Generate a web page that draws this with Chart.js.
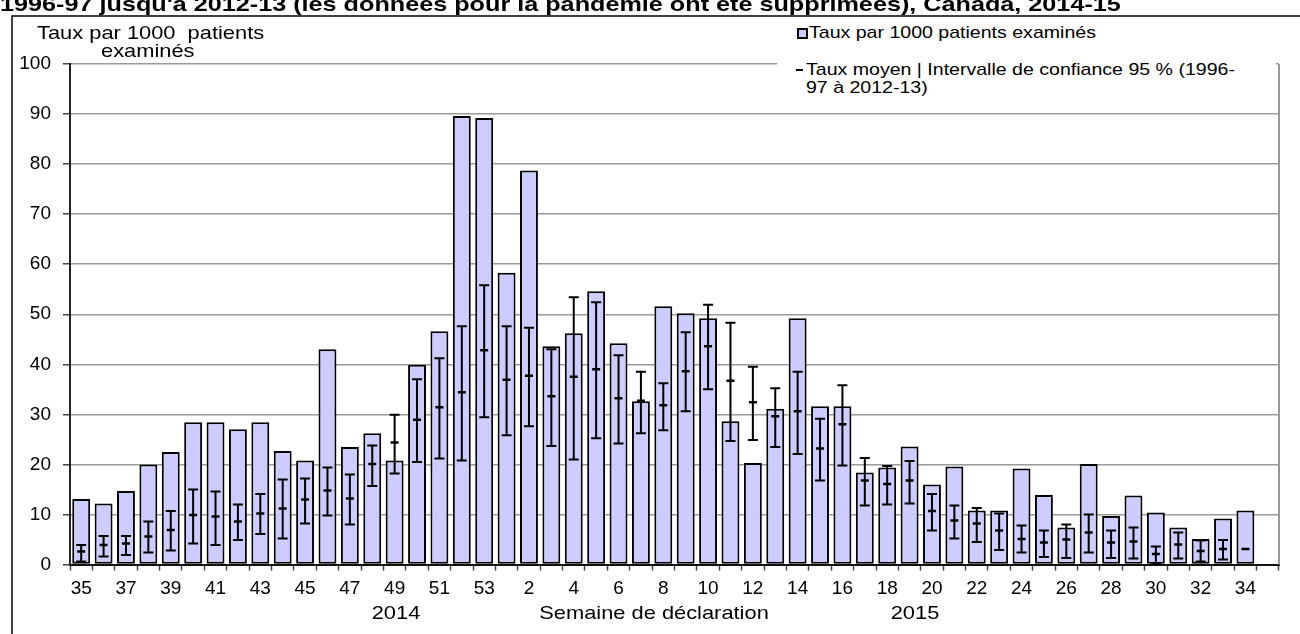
<!DOCTYPE html>
<html lang="fr">
<head>
<meta charset="utf-8">
<script src="https://cdn.jsdelivr.net/npm/chart.js@4.4.1/dist/chart.umd.min.js"></script>
<style>
  html, body { margin: 0; padding: 0; background: #fff; overflow: hidden; }
  #wrap { position: relative; width: 1300px; height: 634px; font-family: 'Liberation Sans', Arial, sans-serif; color: #000; }
  #wrap canvas { position: absolute; left: 0; top: 0; }
  .txt { position: absolute; white-space: nowrap; line-height: 20px; transform-origin: 0 50%; transform: scaleX(1.15); }
  .ctr { transform-origin: 50% 50%; transform: translateX(-50%) scaleX(1.15); }
  #title { font-weight: bold; font-size: 21px; left: 0; top: -6px; transform: scaleX(1.2); }
  #legend { position: absolute; left: 777px; top: 20px; width: 499px; height: 80px; background: #fff; }
  .swatch { position: absolute; width: 7px; height: 7px; border: 2px solid #000; background: #ccccff; }
  .dash { position: absolute; width: 7px; height: 2px; background: #000; }
</style>
</head>
<body>
<div id="wrap">
  <canvas id="chart" width="1300" height="634"></canvas>
  <div id="title" class="txt">1996-97 jusqu'à 2012-13 (les données pour la pandémie ont été supprimées), Canada, 2014-15</div>
  <div class="txt" style="left:37px; top:23px; font-size:19px;">Taux par 1000&nbsp; patients</div>
  <div class="txt" style="left:101px; top:41px; font-size:19px;">examinés</div>
  <div id="legend"></div>
  <div class="swatch" style="left:797px; top:28px;"></div>
  <div class="txt" style="left:809px; top:23px; font-size:17px;">Taux par 1000 patients examinés</div>
  <div class="dash" style="left:796px; top:69px;"></div>
  <div class="txt" style="left:806px; top:60px; font-size:17px;">Taux moyen | Intervalle de confiance 95 % (1996-</div>
  <div class="txt" style="left:806px; top:78px; font-size:17px;">97 à 2012-13)</div>
  <div class="txt ctr" style="left:396px; top:603px; font-size:19px;">2014</div>
  <div class="txt ctr" style="left:654px; top:603px; font-size:19px;">Semaine de déclaration</div>
  <div class="txt ctr" style="left:915px; top:603px; font-size:19px;">2015</div>
</div>
<script>
// Weeks 35 (2014) to 34 (2015), plus an empty slot at the end
const weekLabels = ['35','36','37','38','39','40','41','42','43','44','45','46','47','48','49','50','51','52','53',
  '1','2','3','4','5','6','7','8','9','10','11','12','13','14','15','16','17','18','19','20',
  '21','22','23','24','25','26','27','28','29','30','31','32','33','34','35'];

// Taux par 1000 patients examinés, 2014-15
const rates = [13.1, 12.2, 14.7, 20.0, 22.5, 28.4, 28.4, 27.0, 28.4, 22.7, 20.8, 43.0, 23.5, 26.2, 20.8, 39.9, 46.6, 89.6, 89.2,
  58.3, 78.7, 43.6, 46.2, 54.6, 44.2, 32.6, 51.6, 50.2, 49.2, 28.6, 20.3, 31.1, 49.2, 31.6, 31.6, 18.4, 19.4, 23.6, 16.0,
  19.6, 10.8, 10.8, 19.2, 13.9, 7.4, 20.1, 9.7, 13.8, 10.4, 7.4, 5.1, 9.2, 10.8, null];

// Taux moyen (1996-97 à 2012-13)
const meanRate = [2.6, 3.9, 4.2, 5.6, 6.9, 9.9, 9.6, 8.6, 10.2, 11.2, 13.0, 14.8, 13.2, 20.1, 24.4, 28.9, 31.4, 34.4, 42.8,
  36.9, 37.7, 33.6, 37.5, 39.0, 33.2, 32.7, 31.8, 38.6, 43.6, 36.7, 32.4, 29.6, 30.6, 23.2, 28.0, 16.8, 16.1, 16.8, 10.7,
  8.8, 8.2, 6.8, 5.1, 4.4, 5.0, 6.4, 4.4, 4.6, 2.1, 4.0, 2.7, 3.1, 3.1, null];

// Intervalle de confiance 95 %
const ciLow = [0.6, 1.6, 1.9, 2.4, 2.8, 4.2, 3.9, 4.9, 6.1, 5.2, 8.2, 9.8, 8.0, 15.7, 18.2, 20.5, 21.2, 20.8, 29.4,
  25.8, 27.6, 23.7, 21.0, 25.2, 24.2, 26.2, 26.8, 30.6, 35.0, 24.7, 24.9, 23.5, 22.1, 16.8, 19.8, 11.8, 12.0, 12.2, 6.8,
  5.2, 4.5, 2.9, 2.4, 1.5, 1.3, 2.4, 1.3, 1.2, 0.2, 1.2, 0.6, 1.0, null, null];
const ciHigh = [3.9, 5.7, 5.7, 8.6, 10.7, 15.0, 14.6, 12.0, 14.1, 17.0, 17.2, 19.4, 18.0, 23.8, 29.9, 37.0, 41.2, 47.6, 55.8,
  47.6, 47.3, 43.0, 53.4, 52.4, 41.8, 38.5, 36.2, 46.4, 51.9, 48.3, 39.5, 35.2, 38.5, 29.1, 35.8, 21.3, 19.7, 20.7, 14.1,
  11.8, 11.3, 10.2, 7.8, 6.8, 8.0, 10.0, 6.8, 7.4, 3.6, 6.4, 4.8, 4.9, null, null];

const yTicks = [0, 10, 20, 30, 40, 50, 60, 70, 80, 90, 100];

const tickFont = { family: "'Liberation Sans', Arial, sans-serif", size: 19 };

// outer frame and right border of the plot
const framePlugin = {
    id: 'frame',
    beforeDraw(chart) {
        const ctx = chart.ctx;
        ctx.save();
        ctx.fillStyle = '#fff';
        ctx.fillRect(0, 0, chart.width, chart.height);
        ctx.strokeStyle = '#000';
        ctx.lineWidth = 1.5;
        ctx.beginPath();
        ctx.moveTo(12, 634);
        ctx.lineTo(12, 16);
        ctx.lineTo(1300, 16);
        ctx.stroke();
        ctx.restore();
    },
    afterDraw(chart) {
        const a = chart.chartArea;
        const ctx = chart.ctx;
        ctx.save();
        ctx.strokeStyle = '#999';
        ctx.lineWidth = 2;
        ctx.beginPath();
        ctx.moveTo(a.right, a.top);
        ctx.lineTo(a.right, a.bottom);
        ctx.stroke();
        ctx.restore();
    }
};

// confidence interval whiskers
const errorBarPlugin = {
    id: 'errorBars',
    afterDatasetsDraw(chart) {
        const xs = chart.scales.x;
        const ys = chart.scales.y;
        const ctx = chart.ctx;
        ctx.save();
        ctx.strokeStyle = '#000';
        ctx.lineWidth = 2;
        for (let i = 0; i < weekLabels.length; i++) {
            if (ciLow[i] == null || ciHigh[i] == null) continue;
            const x = xs.getPixelForValue(i);
            const yl = ys.getPixelForValue(ciLow[i]);
            const yh = ys.getPixelForValue(ciHigh[i]);
            ctx.beginPath();
            ctx.moveTo(x, yl);
            ctx.lineTo(x, yh);
            ctx.moveTo(x - 5, yl);
            ctx.lineTo(x + 5, yl);
            ctx.moveTo(x - 5, yh);
            ctx.lineTo(x + 5, yh);
            ctx.stroke();
        }
        ctx.restore();
    }
};

new Chart(document.getElementById('chart'), {
    type: 'bar',
    data: {
        labels: weekLabels,
        datasets: [
            {
                type: 'line',
                label: 'Taux moyen',
                data: meanRate,
                showLine: false,
                pointStyle: 'line',
                pointRadius: 4,
                borderColor: '#000',
                backgroundColor: '#000',
                borderWidth: 2.5,
                order: 0
            },
            {
                type: 'bar',
                label: 'Taux par 1000 patients examinés',
                data: rates,
                backgroundColor: '#ccccff',
                borderColor: '#000',
                borderWidth: 2,
                borderSkipped: false,
                barPercentage: 0.8,
                categoryPercentage: 1,
                order: 1
            }
        ]
    },
    options: {
        responsive: false,
        animation: false,
        layout: { padding: { left: 0, right: 21, top: 64, bottom: 0 } },
        plugins: {
            legend: { display: false },
            tooltip: { enabled: false }
        },
        scales: {
            x: {
                offset: true,
                grid: { display: true, drawOnChartArea: false, offset: true, tickLength: 6, tickColor: '#444', tickWidth: 1.5 },
                border: { color: '#111', width: 2 },
                ticks: {
                    autoSkip: false,
                    maxRotation: 0,
                    minRotation: 0,
                    padding: 7,
                    color: '#000',
                    font: tickFont,
                    callback: (v, i) => (i % 2 === 0 && i < weekLabels.length - 1) ? weekLabels[i] : ''
                },
                afterFit: s => { s.height = 69.5; }
            },
            y: {
                min: 0,
                max: 100,
                afterBuildTicks: s => { s.ticks = yTicks.map(v => ({ value: v })); },
                ticks: { padding: 12, color: '#000', font: tickFont },
                grid: { color: '#9a9a9a', lineWidth: 1.5, tickLength: 7, tickColor: '#444' },
                border: { color: '#222', width: 2 },
                afterFit: s => { s.width = 70; }
            }
        }
    },
    plugins: [framePlugin, errorBarPlugin]
});
</script>
</body>
</html>
